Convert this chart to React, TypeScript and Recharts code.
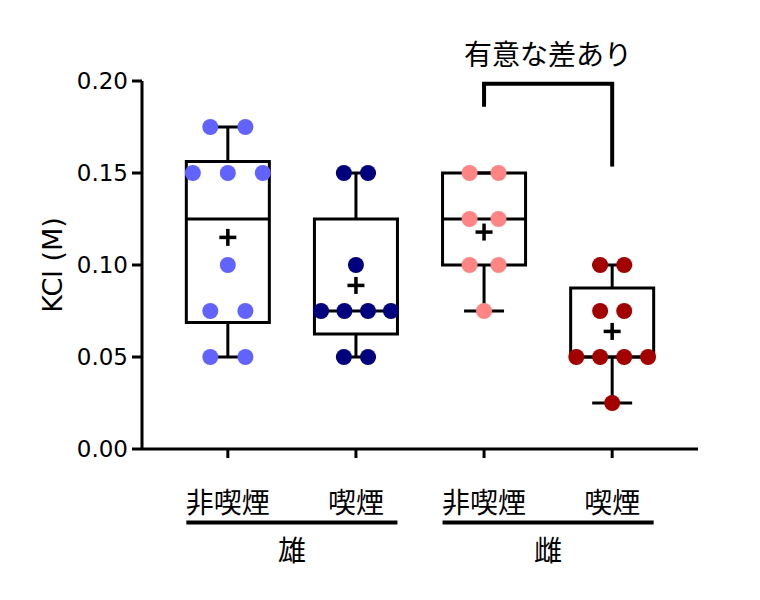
import { ScatterChart, Scatter, XAxis, YAxis, ReferenceArea, ReferenceLine } from 'recharts';

// ─── Data ─────────────────────────────────────────────────────────────────────

const categoryTicks = [1, 2, 3, 4];
const categoryLabels = ['非喫煙', '喫煙', '非喫煙', '喫煙'];
const yTicks = [0, 0.05, 0.1, 0.15, 0.2];

// individual KCl values per group, with the beeswarm offset of each dot
const maleNonSmokerY = [0.175, 0.175, 0.15, 0.15, 0.15, 0.1, 0.075, 0.075, 0.05, 0.05];
const maleNonSmokerDx = [-0.137, 0.137, -0.273, 0, 0.273, 0, -0.137, 0.137, -0.137, 0.137];
const maleSmokerY = [0.15, 0.15, 0.1, 0.075, 0.075, 0.075, 0.075, 0.05, 0.05];
const maleSmokerDx = [-0.094, 0.094, 0, -0.272, -0.09, 0.094, 0.273, -0.094, 0.094];
const femaleNonSmokerY = [0.15, 0.15, 0.125, 0.125, 0.1, 0.1, 0.075];
const femaleNonSmokerDx = [-0.113, 0.113, -0.113, 0.113, -0.113, 0.113, 0];
const femaleSmokerY = [0.1, 0.1, 0.075, 0.075, 0.05, 0.05, 0.05, 0.05, 0.025];
const femaleSmokerDx = [-0.094, 0.094, -0.094, 0.094, -0.28, -0.094, 0.094, 0.28, 0];

// box statistics
const boxMin = [0.05, 0.05, 0.075, 0.025];
const boxQ1 = [0.06875, 0.0625, 0.1, 0.05];
const boxMedian = [0.125, 0.075, 0.125, 0.05];
const boxQ3 = [0.15625, 0.125, 0.15, 0.0875];
const boxMax = [0.175, 0.15, 0.15, 0.1];
const groupMean = [0.115, 0.0889, 0.1179, 0.0639];

const sexLabels = ['雄', '雌'];
const sexSpans = [[1, 2], [3, 4]];

const sigPair = [3, 4];
const sigLabel = '有意な差あり';

// ─── Styling ──────────────────────────────────────────────────────────────────

const COLORS = ['#6262FC', '#00007E', '#FF8585', '#A30000'];
const CJK = '"Noto Sans CJK JP", sans-serif';
const LATIN = '"DejaVu Sans", sans-serif';
const BOX_HALF = 0.324;
const CAP_HALF = 0.156;
const GROUP_BAR_Y = -0.04;
const SIG_TOP = 0.1985;
const SIG_LEFT_END = 0.186;
const SIG_RIGHT_END = 0.1535;

const groups = [
    { ys: maleNonSmokerY, dx: maleNonSmokerDx },
    { ys: maleSmokerY, dx: maleSmokerDx },
    { ys: femaleNonSmokerY, dx: femaleNonSmokerDx },
    { ys: femaleSmokerY, dx: femaleSmokerDx },
];

const dotShape = (color: string) => (p: any) => (
    <circle cx={p.cx} cy={p.cy} r={8} fill={color} />
);

const MeanCross = (p: any) => (
    <g stroke="#000" strokeWidth={3.5}>
        <line x1={p.cx - 8.5} x2={p.cx + 8.5} y1={p.cy} y2={p.cy} />
        <line x1={p.cx} x2={p.cx} y1={p.cy - 8.5} y2={p.cy + 8.5} />
    </g>
);

function CategoryTick(props: any) {
    const { x, y, payload } = props;
    const i = categoryTicks.indexOf(payload.value);
    return (
        <text x={x} y={y} dy={53} textAnchor="middle" fontSize={28} fontFamily={CJK} fill="#000">
            {categoryLabels[i]}
        </text>
    );
}

export default function App() {
    const line = { stroke: '#000', strokeWidth: 3 };
    return (
        <div style={{ position: 'absolute', left: 0, top: 0, background: '#fff' }}>
            <ScatterChart width={760} height={600} margin={{ top: 81, right: 62, bottom: 111, left: 42 }}>
                <XAxis
                    type="number"
                    dataKey="x"
                    domain={[0.33, 4.67]}
                    ticks={categoryTicks}
                    allowDataOverflow
                    height={40}
                    tickSize={9}
                    axisLine={line}
                    tickLine={line}
                    tick={<CategoryTick />}
                />
                <YAxis
                    type="number"
                    dataKey="y"
                    domain={[0, 0.2]}
                    ticks={yTicks}
                    width={100}
                    tickSize={10}
                    tickMargin={4}
                    axisLine={line}
                    tickLine={line}
                    tickFormatter={(v: number) => v.toFixed(2)}
                    tick={{ fontSize: 23, fontFamily: LATIN, fill: '#000' }}
                    label={{
                        value: 'KCl (M)',
                        angle: -90,
                        position: 'insideLeft',
                        offset: 10,
                        style: { textAnchor: 'middle', fontSize: 27, fontFamily: LATIN, fill: '#000' },
                    }}
                />

                {categoryTicks.map((c, i) => (
                    <ReferenceArea
                        key={`box${i}`}
                        x1={c - BOX_HALF}
                        x2={c + BOX_HALF}
                        y1={boxQ1[i]}
                        y2={boxQ3[i]}
                        fill="none"
                        stroke="#000"
                        strokeWidth={3}
                    />
                ))}
                {categoryTicks.map((c, i) => (
                    <ReferenceLine key={`med${i}`} segment={[{ x: c - BOX_HALF, y: boxMedian[i] }, { x: c + BOX_HALF, y: boxMedian[i] }]} {...line} />
                ))}
                {categoryTicks.map((c, i) => (
                    <ReferenceLine key={`wlo${i}`} segment={[{ x: c, y: boxMin[i] }, { x: c, y: boxQ1[i] }]} {...line} />
                ))}
                {categoryTicks.map((c, i) => (
                    <ReferenceLine key={`whi${i}`} segment={[{ x: c, y: boxQ3[i] }, { x: c, y: boxMax[i] }]} {...line} />
                ))}
                {categoryTicks.map((c, i) => (
                    <ReferenceLine key={`clo${i}`} segment={[{ x: c - CAP_HALF, y: boxMin[i] }, { x: c + CAP_HALF, y: boxMin[i] }]} {...line} />
                ))}
                {categoryTicks.map((c, i) => (
                    <ReferenceLine key={`chi${i}`} segment={[{ x: c - CAP_HALF, y: boxMax[i] }, { x: c + CAP_HALF, y: boxMax[i] }]} {...line} />
                ))}

                {/* sex group bars under the category labels */}
                {sexSpans.map(([a, b], i) => (
                    <ReferenceLine
                        key={`sex${i}`}
                        ifOverflow="visible"
                        segment={[{ x: a - BOX_HALF, y: GROUP_BAR_Y }, { x: b + BOX_HALF, y: GROUP_BAR_Y }]}
                        stroke="#000"
                        strokeWidth={4}
                        label={{ value: sexLabels[i], position: 'bottom', offset: 19, fontSize: 28, fontFamily: CJK, fill: '#000' }}
                    />
                ))}

                {/* significance bracket */}
                <ReferenceLine
                    ifOverflow="visible"
                    segment={[{ x: sigPair[0], y: SIG_TOP }, { x: sigPair[1], y: SIG_TOP }]}
                    stroke="#000"
                    strokeWidth={4}
                    strokeLinecap="square"
                    label={{ value: sigLabel, position: 'top', offset: 19, fontSize: 28, fontFamily: CJK, fill: '#000' }}
                />
                <ReferenceLine
                    ifOverflow="visible"
                    segment={[{ x: sigPair[0], y: SIG_TOP }, { x: sigPair[0], y: SIG_LEFT_END }]}
                    stroke="#000"
                    strokeWidth={4}
                />
                <ReferenceLine
                    ifOverflow="visible"
                    segment={[{ x: sigPair[1], y: SIG_TOP }, { x: sigPair[1], y: SIG_RIGHT_END }]}
                    stroke="#000"
                    strokeWidth={4}
                />

                {groups.map((g, i) => (
                    <Scatter
                        key={`pts${i}`}
                        data={g.ys.map((y, j) => ({ x: categoryTicks[i] + g.dx[j], y }))}
                        shape={dotShape(COLORS[i])}
                        isAnimationActive={false}
                    />
                ))}
                <Scatter
                    data={categoryTicks.map((c, i) => ({ x: c, y: groupMean[i] }))}
                    shape={MeanCross}
                    isAnimationActive={false}
                />
            </ScatterChart>
        </div>
    );
}
